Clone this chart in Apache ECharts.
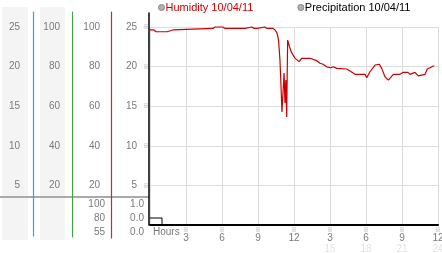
<!DOCTYPE html>
<html>
<head>
<meta charset="utf-8">
<script src="https://cdn.jsdelivr.net/npm/echarts@6/dist/echarts.min.js"></script>
<style>
html,body{margin:0;padding:0;background:#fff;}
#chart{width:442px;height:253px;}
</style>
</head>
<body>
<div id="chart"></div>
<script>
// ---- data ----
var humHours = [0, 0.33, 0.5, 1.42, 1.58, 1.92, 2.08, 5.25, 5.42, 6.08, 6.25, 7.92, 8.08, 8.5, 8.67, 8.92, 9.08, 9.58, 9.75, 10.25, 10.42, 10.58, 10.71, 10.83, 10.92, 11.0, 11.08, 11.17, 11.25, 11.32, 11.39, 11.47, 11.63, 11.81, 11.92, 12.08, 12.22, 12.42, 12.64, 13.33, 13.47, 13.89, 14.17, 14.42, 14.72, 15.06, 15.28, 15.56, 16.39, 16.67, 17.08, 17.92, 18.06, 18.33, 18.75, 19.11, 19.31, 19.58, 19.86, 20.28, 20.83, 21.11, 21.5, 21.67, 21.83, 22.08, 22.36, 22.5, 22.92, 23.11, 23.33, 23.61, 23.69];
var humValues = [98.5, 98.5, 97.6, 97.6, 98.5, 98.5, 99.3, 99.3, 100, 100, 99.3, 99.3, 100, 100, 99.3, 99.3, 100, 100, 99.3, 99.3, 98.5, 97, 93.4, 83.3, 69.7, 57.1, 56.6, 76.8, 61.6, 73.2, 54.5, 93.4, 89.9, 86.9, 85.9, 84.3, 84.7, 82.5, 84.2, 84.2, 83.3, 83.0, 81.7, 81.2, 79.9, 79.4, 79.9, 79.1, 78.8, 77.8, 76.1, 76.1, 74.4, 77.4, 80.8, 81.2, 79.1, 74.9, 73.2, 76.1, 76.1, 77.1, 77.1, 76.1, 77.1, 77.1, 75.3, 76.1, 76.1, 78.8, 79.4, 80.3, 80.3];
var precipHours = [0, 1, 23.75];
var precipValues = [0.05, 0, 0];
var xTickTop = ['3', '6', '9', '12', '3', '6', '9', '12'];
var xTickSub = ['', '', '', '', '15', '18', '21', '24'];
var precipTickLabels = ['0.0', '0.0', '1.0'];
var baroTickLabels = ['55', '80', '100'];
var seriesNames = ['Humidity 10/04/11', 'Precipitation 10/04/11'];

// ---- build ----
var FONT = 'Liberation Sans';
var GRAY = '#7a7a7a';
function pairs(xs, ys) { return xs.map(function (x, i) { return [x, ys[i]]; }); }
function hideZero(v) { return v === 0 ? '' : String(v); }

var chart = echarts.init(document.getElementById('chart'), null, { renderer: 'canvas' });
var baseLabel = { color: GRAY, fontFamily: FONT, fontSize: 10 };
function lineAxis(grid, color, width) {
  return {
    gridIndex: grid, type: 'value', min: 0, max: 1, position: 'left', offset: 0,
    axisLine: { show: true, onZero: false, lineStyle: { color: color, width: width } },
    axisTick: { show: false }, axisLabel: { show: false }, splitLine: { show: false }
  };
}
function labelAxis(grid, max, interval, offset, margin) {
  return {
    gridIndex: grid, type: 'value', min: 0, max: max, interval: interval, position: 'left', offset: offset,
    axisLine: { show: false, onZero: false }, axisTick: { show: false }, splitLine: { show: false },
    axisLabel: Object.assign({ margin: margin, formatter: hideZero }, baseLabel)
  };
}
function hiddenX(grid) { return { gridIndex: grid, type: 'value', min: 0, max: 24, show: false }; }

var option = {
  animation: false,
  backgroundColor: '#fff',
  textStyle: { fontFamily: FONT },
  legend: {
    left: 158, top: 2, padding: 0, itemWidth: 6, itemHeight: 6, itemGap: 44, icon: 'circle',
    textStyle: { fontFamily: FONT, fontSize: 11, padding: [0, 0, 0, -4] },
    data: [
      { name: seriesNames[0], itemStyle: { color: '#b0b0b0', borderColor: '#888', borderWidth: 1 }, textStyle: { color: '#cc0000' } },
      { name: seriesNames[1], itemStyle: { color: '#b0b0b0', borderColor: '#888', borderWidth: 1 }, textStyle: { color: '#000' } }
    ]
  },
  graphic: [
    { type: 'rect', z: -10, shape: { x: 2, y: 7, width: 26, height: 233 }, style: { fill: '#f4f4f4' } },
    { type: 'rect', z: -10, shape: { x: 40, y: 7, width: 25, height: 233 }, style: { fill: '#f4f4f4' } },
    { type: 'line', z: -5, shape: { x1: 0, y1: 197, x2: 149, y2: 197 }, style: { stroke: '#aaaaaa', lineWidth: 2 } },
    { type: 'text', x: 153, y: 232, style: { text: 'Hours', fill: GRAY, font: '10px "Liberation Sans"', verticalAlign: 'middle' } }
  ],
  grid: [
    { left: 150, right: 4, top: 27, height: 198, outerBoundsMode: 'none' },
    { left: 150, right: 4, top: 204, height: 28, outerBoundsMode: 'none' },
    { left: 149, right: 4, top: 13, height: 212, outerBoundsMode: 'none' },
    { left: 33.5, width: 10, top: 12, height: 224, outerBoundsMode: 'none' },
    { left: 72.5, width: 10, top: 12, height: 225, outerBoundsMode: 'none' },
    { left: 111.5, width: 10, top: 12, height: 226, outerBoundsMode: 'none' },
    { left: 150, right: 4, top: 27, height: 198, outerBoundsMode: 'none' },
    { left: 150, right: 4, top: 27, height: 198, outerBoundsMode: 'none' },
    { left: 150, right: 4, top: 27, height: 198, outerBoundsMode: 'none' }
  ],
  xAxis: [
    {
      gridIndex: 0, type: 'value', min: 0, max: 24, interval: 3,
      axisLine: { show: true, onZero: false, lineStyle: { color: '#000', width: 2 } },
      axisTick: { show: false },
      splitLine: { show: true, lineStyle: { color: '#dddddd', width: 1 } },
      axisLabel: {
        margin: 2, showMinLabel: false,
        formatter: function (v) {
          if (v === 0) return '';
          var i = v / 3 - 1;
          var s = '{m|※}\n{v|' + xTickTop[i] + '}';
          if (xTickSub[i]) s += '\n{s|' + xTickSub[i] + '}';
          return s;
        },
        rich: {
          m: { fontSize: 6, lineHeight: 6, color: '#999', fontFamily: 'Noto Sans CJK JP' },
          v: { fontSize: 10, lineHeight: 11, color: GRAY, fontFamily: FONT },
          s: { fontSize: 10, lineHeight: 11, color: '#e4e4e4', fontFamily: FONT }
        }
      }
    },
    hiddenX(1), hiddenX(2), hiddenX(3), hiddenX(4), hiddenX(5), hiddenX(6), hiddenX(7), hiddenX(8)
  ],
  yAxis: [
    // 0: humidity axis (column 3, 0-100)
    {
      gridIndex: 0, type: 'value', min: 0, max: 100, interval: 20, position: 'left', offset: 39,
      axisLine: { show: false, onZero: false }, axisTick: { show: false },
      splitLine: { show: true, lineStyle: { color: '#dddddd', width: 1 } },
      axisLabel: Object.assign({ margin: 11, formatter: hideZero }, baseLabel)
    },
    // 1: column 2 (0-100)
    labelAxis(6, 100, 20, 78, 12),
    // 2: column 1 (0-25)
    labelAxis(7, 25, 5, 117, 13),
    // 3: column 4 (0-25) with markers
    {
      gridIndex: 8, type: 'value', min: 0, max: 25, interval: 5, position: 'left', offset: 0,
      axisLine: { show: false, onZero: false }, axisTick: { show: false }, splitLine: { show: false },
      axisLabel: {
        margin: 1,
        formatter: function (v) { return v === 0 ? '' : '{v|' + v + '}{m|※}'; },
        rich: {
          v: { fontSize: 10, color: GRAY, fontFamily: FONT, padding: [0, 6, 0, 0] },
          m: { fontSize: 6, color: '#999', fontFamily: 'Noto Sans CJK JP' }
        }
      }
    },
    // 4: precipitation value axis (hidden)
    { gridIndex: 1, type: 'value', min: -0.05, max: 0.15, show: false },
    // 5: precipitation tick labels
    {
      gridIndex: 1, type: 'category', data: precipTickLabels, boundaryGap: false, position: 'left', offset: 0,
      axisLine: { show: false, onZero: false }, axisTick: { show: false }, splitLine: { show: false },
      axisLabel: Object.assign({ margin: 6, interval: 0 }, baseLabel)
    },
    // 6: lower column-3 tick labels
    {
      gridIndex: 1, type: 'category', data: baroTickLabels, boundaryGap: false, position: 'left', offset: 39,
      axisLine: { show: false, onZero: false }, axisTick: { show: false }, splitLine: { show: false },
      axisLabel: Object.assign({ margin: 6, interval: 0 }, baseLabel)
    },
    // 7: black plot y-axis line
    lineAxis(2, '#000', 1.5),
    // 8-10: coloured axis lines
    lineAxis(3, '#3aa0e0', 1.2),
    lineAxis(4, '#33aa33', 1),
    lineAxis(5, '#d02828', 1.2)
  ],
  series: [
    {
      name: seriesNames[0], type: 'line', xAxisIndex: 0, yAxisIndex: 0,
      data: pairs(humHours, humValues), showSymbol: false, clip: false,
      lineStyle: { color: '#cc0000', width: 1.2 }, itemStyle: { color: '#cc0000' }, z: 5
    },
    {
      name: seriesNames[1], type: 'line', xAxisIndex: 1, yAxisIndex: 4, step: 'end',
      data: pairs(precipHours, precipValues), showSymbol: false, clip: false,
      lineStyle: { color: '#000', width: 1 }, itemStyle: { color: '#000' }, z: 5
    }
  ]
};
chart.setOption(option);
</script>
</body>
</html>
